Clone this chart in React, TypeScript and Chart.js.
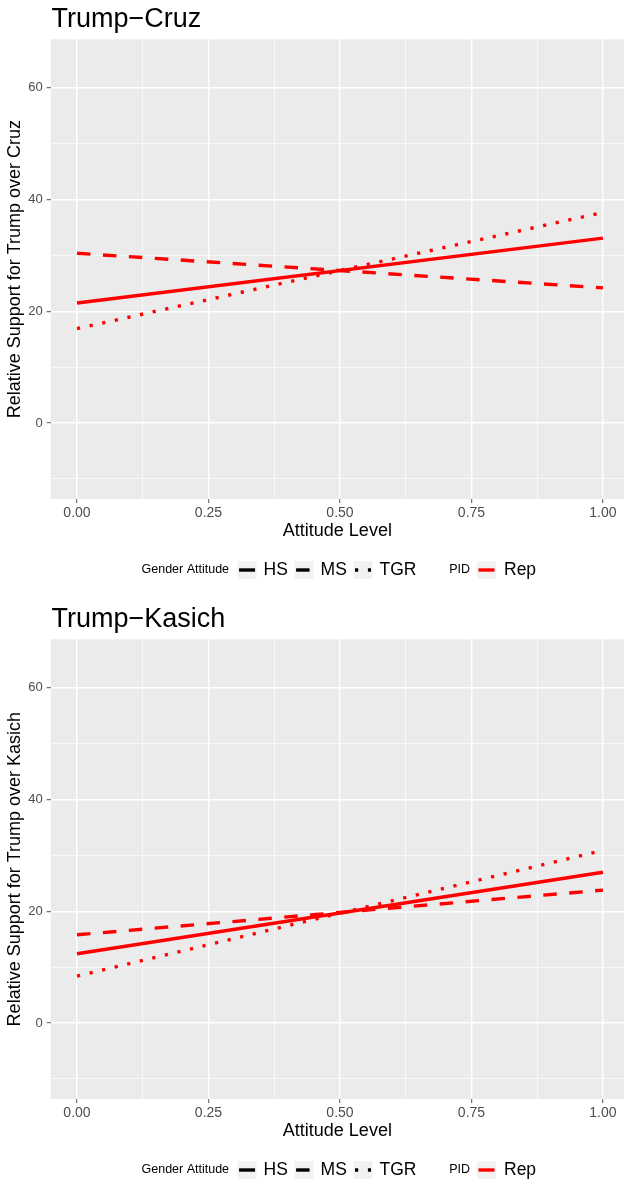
import React, { useEffect, useRef } from "react";
import { Chart, registerables } from "chart.js";

Chart.register(...registerables);

// ---------- data ----------
const attitude = [0, 1];
const xTickValues = [0, 0.125, 0.25, 0.375, 0.5, 0.625, 0.75, 0.875, 1];
const yTickValues = [-10, 0, 10, 20, 30, 40, 50, 60];

const cruzHS = [21.5, 33.1];
const cruzMS = [30.4, 24.2];
const cruzTGR = [16.9, 37.7];

const kasichHS = [12.4, 27.0];
const kasichMS = [15.8, 23.8];
const kasichTGR = [8.4, 30.9];

const genderLevels = ["HS", "MS", "TGR"];
const pidLevels = ["Rep"];

// ---------- styles ----------
const FONT = '"Liberation Sans", Arial, Helvetica, sans-serif';
const RED = "#FF0000";
const LINE_W = 3.4;
const dashFor: Record<string, number[]> = { HS: [], MS: [13.5, 12.5], TGR: [3.2, 9.7] };

const isMajorX = (v: number) => Math.abs(v * 4 - Math.round(v * 4)) < 1e-9;
const isMajorY = (v: number) => Math.abs(v % 20) < 1e-9;

const ggPlugin = {
  id: "gg",
  beforeDraw(chart: any) {
    const { ctx, chartArea: a } = chart;
    ctx.save();
    ctx.fillStyle = "#EBEBEB";
    ctx.fillRect(a.left, a.top, a.right - a.left, a.bottom - a.top);
    ctx.restore();
  },
  afterDraw(chart: any, _args: any, opts: any) {
    const { ctx, chartArea: a } = chart;
    ctx.save();
    // plot title
    ctx.fillStyle = "#000";
    ctx.font = `27px ${FONT}`;
    ctx.textAlign = "left";
    ctx.textBaseline = "alphabetic";
    ctx.fillText(opts.title, a.left + 0.8, 27);

    // legend
    const ly = 570;
    let x = 141.5;
    const keyW = 19;
    const keyH = 18;
    const drawKey = (dash: number[], color: string) => {
      ctx.fillStyle = "#F2F2F2";
      ctx.fillRect(x, ly - keyH / 2, keyW, keyH);
      ctx.strokeStyle = color;
      ctx.lineWidth = LINE_W;
      ctx.lineCap = "butt";
      ctx.setLineDash(dash);
      ctx.beginPath();
      ctx.moveTo(x + 1.5, ly);
      ctx.lineTo(x + keyW - 1.5, ly);
      ctx.stroke();
      ctx.setLineDash([]);
      x += keyW;
    };
    ctx.textBaseline = "middle";
    ctx.fillStyle = "#000";
    ctx.font = `12.5px ${FONT}`;
    ctx.fillText("Gender Attitude", x, ly);
    x += ctx.measureText("Gender Attitude").width + 8.5;
    genderLevels.forEach((g) => {
      drawKey(dashFor[g], "#000");
      x += 7;
      ctx.fillStyle = "#000";
      ctx.font = `17.5px ${FONT}`;
      ctx.fillText(g, x, ly + 0.5);
      x += ctx.measureText(g).width + 6.7;
    });
    x += 26;
    ctx.font = `12.5px ${FONT}`;
    ctx.fillStyle = "#000";
    ctx.fillText("PID", x, ly);
    x += ctx.measureText("PID").width + 7;
    pidLevels.forEach((p) => {
      drawKey([], RED);
      x += 8;
      ctx.fillStyle = "#000";
      ctx.font = `17.5px ${FONT}`;
      ctx.fillText(p, x, ly + 0.5);
      x += ctx.measureText(p).width + 6.7;
    });
    ctx.restore();
  },
};

function Panel(props: { title: string; yTitle: string; hs: number[]; ms: number[]; tgr: number[] }) {
  const ref = useRef<HTMLCanvasElement>(null);
  useEffect(() => {
    const series: Record<string, number[]> = { HS: props.hs, MS: props.ms, TGR: props.tgr };
    const chart = new Chart(ref.current as HTMLCanvasElement, {
      type: "line",
      data: {
        datasets: genderLevels.map((g) => ({
          label: g,
          data: attitude.map((x, i) => ({ x, y: series[g][i] })),
          borderColor: RED,
          backgroundColor: RED,
          borderWidth: LINE_W,
          borderDash: dashFor[g],
          borderCapStyle: "butt",
          pointRadius: 0,
          pointHoverRadius: 0,
          tension: 0,
          fill: false,
        })),
      },
      options: {
        responsive: false,
        animation: false,
        devicePixelRatio: 1,
        events: [],
        layout: { padding: { top: 39.3, bottom: 56, left: 0, right: 0 } },
        plugins: {
          legend: { display: false },
          title: { display: false },
          tooltip: { enabled: false },
          gg: { title: props.title },
        } as any,
        scales: {
          x: {
            type: "linear",
            min: -0.05,
            max: 1.04,
            afterBuildTicks: (s: any) => {
              s.ticks = xTickValues.map((v) => ({ value: v }));
            },
            afterFit: (s: any) => {
              s.height = 45;
              s.paddingLeft = 0;
              s.paddingRight = 0;
            },
            border: { display: false },
            grid: {
              color: "#FFFFFF",
              lineWidth: (c: any) => (isMajorX(c.tick.value) ? 1.4 : 0.7),
              drawTicks: true,
              tickLength: 4,
              tickWidth: 1,
              tickColor: (c: any) => (isMajorX(c.tick.value) ? "#555555" : "rgba(0,0,0,0)"),
            },
            ticks: {
              autoSkip: false,
              maxRotation: 0,
              minRotation: 0,
              padding: 2,
              color: "#4D4D4D",
              font: { family: FONT, size: 14 },
              callback: (v: any) => (isMajorX(Number(v)) ? Number(v).toFixed(2) : ""),
            },
            title: {
              display: true,
              text: "Attitude Level",
              color: "#000",
              font: { family: FONT, size: 18 },
              padding: { top: 0, bottom: 2.6 },
            },
          },
          y: {
            type: "linear",
            min: -13.6,
            max: 68.7,
            afterBuildTicks: (s: any) => {
              s.ticks = yTickValues.map((v) => ({ value: v }));
            },
            afterFit: (s: any) => {
              s.width = 50.7;
            },
            border: { display: false },
            grid: {
              color: "#FFFFFF",
              lineWidth: (c: any) => (isMajorY(c.tick.value) ? 1.4 : 0.7),
              drawTicks: true,
              tickLength: 4,
              tickWidth: 1,
              tickColor: (c: any) => (isMajorY(c.tick.value) ? "#555555" : "rgba(0,0,0,0)"),
            },
            ticks: {
              autoSkip: false,
              padding: 4,
              color: "#4D4D4D",
              font: { family: FONT, size: 13 },
              callback: (v: any) => (isMajorY(Number(v)) ? String(v) : ""),
            },
            title: {
              display: true,
              text: props.yTitle,
              color: "#000",
              font: { family: FONT, size: 18 },
              padding: { top: 4.2, bottom: 0 },
            },
          },
        },
      } as any,
      plugins: [ggPlugin as any],
    });
    return () => chart.destroy();
  }, []);
  return (
    <div style={{ width: 624, height: 600 }}>
      <canvas ref={ref} width={624} height={600} style={{ display: "block" }} />
    </div>
  );
}

export default function App() {
  useEffect(() => {
    document.body.style.margin = "0";
    document.body.style.background = "#FFFFFF";
  }, []);
  return (
    <div style={{ width: 624, height: 1181, overflow: "hidden", background: "#FFFFFF" }}>
      <Panel
        title="Trump−Cruz"
        yTitle="Relative Support for Trump over Cruz"
        hs={cruzHS}
        ms={cruzMS}
        tgr={cruzTGR}
      />
      <Panel
        title="Trump−Kasich"
        yTitle="Relative Support for Trump over Kasich"
        hs={kasichHS}
        ms={kasichMS}
        tgr={kasichTGR}
      />
    </div>
  );
}
